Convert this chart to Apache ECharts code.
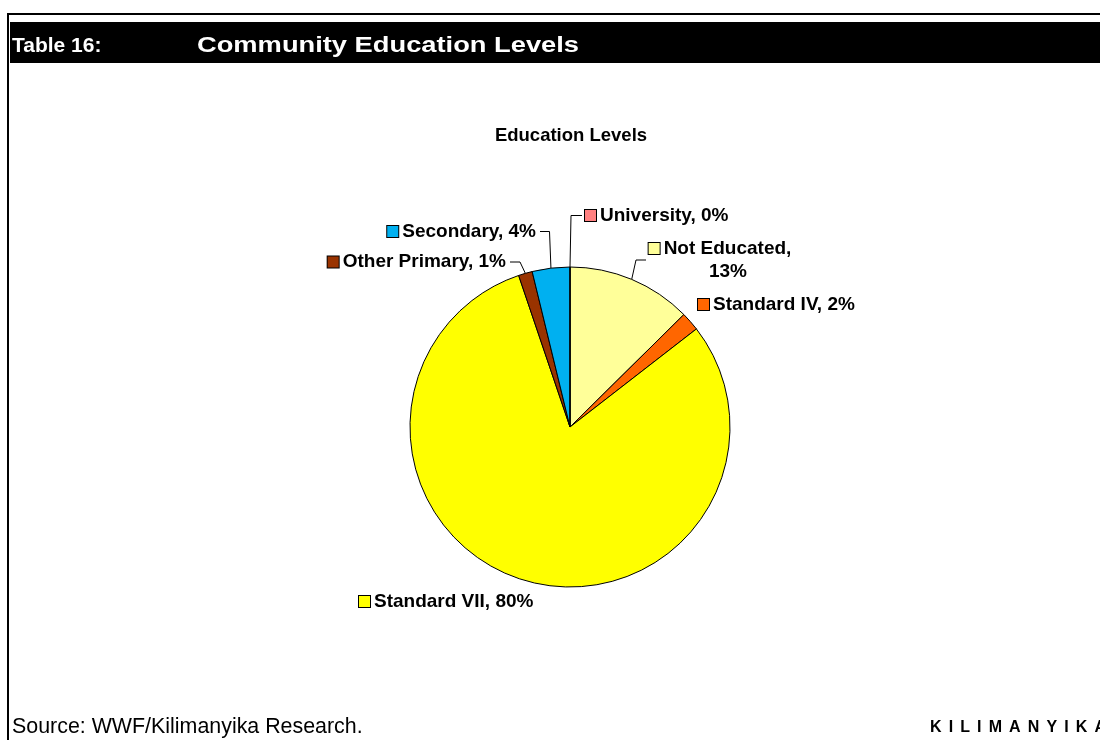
<!DOCTYPE html>
<html>
<head>
<meta charset="utf-8">
<script src="https://cdn.jsdelivr.net/npm/echarts@6/dist/echarts.min.js"></script>
<style>
  html, body { margin: 0; padding: 0; background: #fff; }
  #chart { width: 1100px; height: 740px; }
</style>
</head>
<body>
<div id="chart"></div>
<script>
// Education levels of surveyed community members (share of respondents, %)
const categories = ['Not Educated', 'Standard IV', 'Standard VII', 'Other Primary', 'Secondary', 'University'];
const shares = [12.6, 1.9, 80.3, 1.4, 3.8, 0];
const sliceColors = ['#FFFF99', '#FF6600', '#FFFF00', '#993300', '#00B0F0', '#FF8080'];

const FONT = '"Liberation Sans", Arial, Helvetica, sans-serif';

// Where each slice label sits, and the x positions of its leader line (label end, elbow)
const labelSpots = [
  { x: 720, y: 260, align: 'center', line: [646, 636] },
  { x: 698, y: 304.5, align: 'left' },
  { x: 359, y: 601.5, align: 'left' },
  { x: 506, y: 262, align: 'right', line: [510, 520] },
  { x: 536, y: 231.5, align: 'right', line: [540, 549.5] },
  { x: 585, y: 215.5, align: 'left', line: [582, 571] }
];

const rich = {
  t: { fontSize: 19, fontWeight: 'bold', color: '#000', fontFamily: FONT, lineHeight: 23 },
  g: { width: 4 },
  sp: { width: 16 }
};
sliceColors.forEach((c, i) => {
  rich['k' + i] = { width: 11, height: 11, backgroundColor: c, borderColor: '#000', borderWidth: 1 };
});

const chart = echarts.init(document.getElementById('chart'), null, { renderer: 'canvas' });

chart.setOption({
  backgroundColor: '#fff',
  animation: false,
  title: {
    text: 'Education Levels',
    left: 571,
    top: 126,
    padding: 0,
    textAlign: 'center',
    textStyle: { fontSize: 18.5, fontWeight: 'bold', color: '#000', fontFamily: FONT }
  },
  graphic: [
    { type: 'rect', shape: { x: 7, y: 13, width: 1093, height: 2 }, style: { fill: '#000' } },
    { type: 'rect', shape: { x: 7, y: 13, width: 2, height: 727 }, style: { fill: '#000' } },
    { type: 'rect', shape: { x: 10, y: 22, width: 1090, height: 41 }, style: { fill: '#000' } },
    { type: 'text', x: 12, y: 46, style: { text: 'Table 16:', fill: '#fff', font: 'bold 21px ' + FONT, textVerticalAlign: 'middle' } },
    { type: 'text', x: 197, y: 46, scaleX: 1.24, style: { text: 'Community Education Levels', fill: '#fff', font: 'bold 22px ' + FONT, textVerticalAlign: 'middle' } },
    { type: 'text', x: 12, y: 727, style: { text: 'Source: WWF/Kilimanyika Research.', fill: '#000', font: '21.4px ' + FONT, textVerticalAlign: 'middle' } },
    { type: 'text', x: 930, y: 728, style: { text: 'KILIMANYIKA'.split('').join(' \u2006'), fill: '#000', font: 'bold 16px ' + FONT, textVerticalAlign: 'middle' } }
  ],
  series: [{
    type: 'pie',
    center: [570, 427],
    radius: 160,
    startAngle: 90,
    clockwise: true,
    avoidLabelOverlap: false,
    itemStyle: { borderColor: '#000', borderWidth: 1 },
    emphasis: { disabled: true },
    label: {
      show: true,
      position: 'outside',
      rich: rich,
      formatter: p => {
        const pct = Math.round(p.percent) + '%';
        if (p.dataIndex === 0) {
          return '{k0|}{g|}{t|' + p.name + ',}\n{sp|}{t|' + pct + '}';
        }
        return '{k' + p.dataIndex + '|}{g|}{t|' + p.name + ', ' + pct + '}';
      }
    },
    labelLine: { show: true, length: 10, length2: 10, lineStyle: { color: '#000', width: 1 } },
    labelLayout: p => {
      const s = labelSpots[p.dataIndex];
      const out = { x: s.x, y: s.y, align: s.align, verticalAlign: 'middle' };
      if (s.line && p.labelLinePoints) {
        const edge = p.labelLinePoints[0];
        out.labelLinePoints = [edge, [s.line[1], s.y], [s.line[0], s.y]];
      }
      return out;
    },
    data: categories.map((name, i) => ({
      name: name,
      value: shares[i],
      itemStyle: { color: sliceColors[i] },
      labelLine: { show: !!labelSpots[i].line }
    }))
  }]
});
</script>
</body>
</html>
